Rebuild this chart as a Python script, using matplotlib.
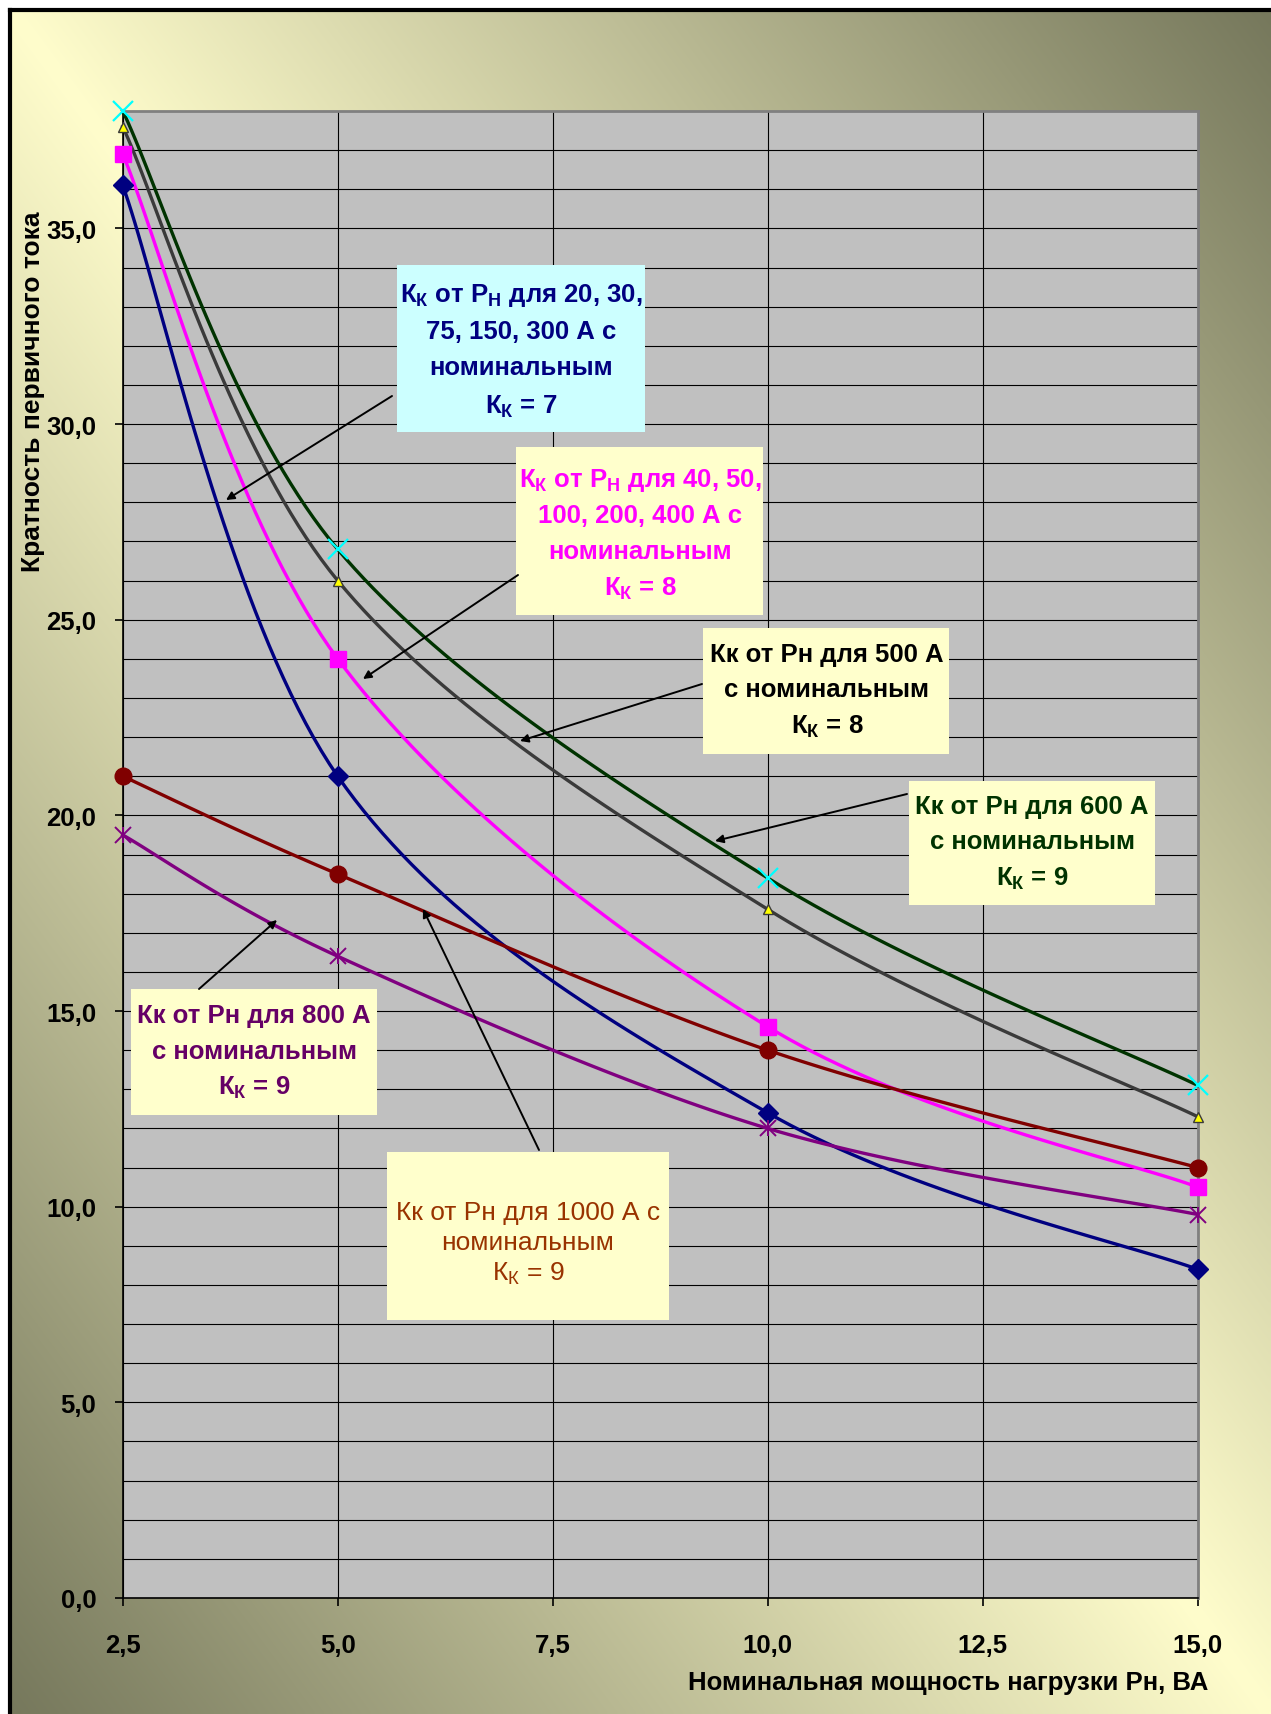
import numpy as np
import matplotlib
matplotlib.use('Agg')
import matplotlib.pyplot as plt
from matplotlib.patches import Rectangle

plt.rcParams['font.family'] = ['Liberation Sans', 'DejaVu Sans']
plt.rcParams['mathtext.fontset'] = 'custom'
plt.rcParams['mathtext.rm'] = 'Liberation Sans'
plt.rcParams['mathtext.bf'] = 'Liberation Sans:bold'

W, H = 1271, 1715

# data
p_nom = [2.5, 5.0, 10.0, 15.0]
k_20_300 = [36.1, 21.0, 12.4, 8.4]
k_40_400 = [36.9, 24.0, 14.6, 10.5]
k_500 = [37.6, 26.0, 17.6, 12.3]
k_600 = [38.0, 26.8, 18.4, 13.1]
k_1000 = [21.0, 18.5, 14.0, 11.0]
k_800 = [19.5, 16.4, 12.0, 9.8]

x_ticks = [2.5, 5.0, 7.5, 10.0, 12.5, 15.0]
y_ticks = [0, 5, 10, 15, 20, 25, 30, 35]


def smooth(xs, ys, n=40):
    # bezier smoothing like the spreadsheet "smoothed line"
    p = np.column_stack([xs, ys]).astype(float)
    ext = np.vstack([p[0], p, p[-1]])
    t = np.linspace(0, 1, n)[:, None]
    out = []
    for i in range(len(p) - 1):
        p0, p3 = ext[i + 1], ext[i + 2]
        c1 = p0 + (ext[i + 2] - ext[i]) / 6
        c2 = p3 - (ext[i + 3] - ext[i + 1]) / 6
        seg = (1 - t)**3 * p0 + 3 * (1 - t)**2 * t * c1 + 3 * (1 - t) * t**2 * c2 + t**3 * p3
        out.append(seg if i == 0 else seg[1:])
    s = np.vstack(out)
    return s[:, 0], s[:, 1]


def fmt(v):
    return ('%.1f' % v).replace('.', ',')


fig = plt.figure(figsize=(W / 100, H / 100), dpi=100)

# background with diagonal gradient and black frame
bg = fig.add_axes([0, 0, 1, 1], zorder=0)
u = np.linspace(0, 1, 300)
v = np.linspace(0, 1, 400)
U, V = np.meshgrid(u, v)
t = np.abs(U - V)
light = np.array([255, 253, 204]) / 255
dark = np.array([118, 120, 92]) / 255
img = light + (dark - light) * t[..., None]
bg.imshow(img, extent=(10, W, H, 11), aspect='auto', interpolation='bilinear')
bg.plot([10, 10], [H, 11], color='black', lw=3, solid_capstyle='projecting')
bg.plot([10, W], [11, 11], color='black', lw=3, solid_capstyle='projecting')
bg.set_xlim(0, W)
bg.set_ylim(H, 0)
bg.axis('off')

# plot area
ax = fig.add_axes([122.7 / W, 1 - 1599 / H, (1197.7 - 122.7) / W, (1599 - 112) / H], zorder=1)
ax.set_facecolor('#C0C0C0')
ax.set_xlim(2.5, 15)
ax.set_ylim(0, 38)
ax.set_xticks(x_ticks)
ax.set_xticklabels([fmt(v) for v in x_ticks])
ax.set_yticks(y_ticks)
ax.set_yticklabels([fmt(v) for v in y_ticks])
ax.set_yticks(np.arange(0, 38, 1), minor=True)
ax.grid(which='both', axis='y', color='black', lw=0.8)
ax.grid(which='major', axis='x', color='black', lw=0.8)
ax.set_axisbelow(True)
ax.tick_params(which='minor', length=0)
ax.tick_params(which='major', direction='out', length=6, width=1.2, labelsize=18.5)
ax.tick_params(axis='x', pad=19)
ax.tick_params(axis='y', pad=13)
for lab in ax.get_xticklabels() + ax.get_yticklabels():
    lab.set_fontweight('bold')
for s in ['left', 'bottom']:
    ax.spines[s].set_color('black')
    ax.spines[s].set_linewidth(1.2)
for s in ['top', 'right']:
    ax.spines[s].set_color('#808080')
    ax.spines[s].set_linewidth(2)

lw = 2.4
xs, ys = smooth(p_nom, k_20_300)
ax.plot(xs, ys, color='#000080', lw=lw, clip_on=False, zorder=3)
ax.plot(p_nom, k_20_300, 'D', color='#000080', ms=10, clip_on=False, zorder=4)

xs, ys = smooth(p_nom, k_40_400)
ax.plot(xs, ys, color='#FF00FF', lw=lw, clip_on=False, zorder=3)
ax.plot(p_nom, k_40_400, 's', color='#FF00FF', ms=12, clip_on=False, zorder=4)

xs, ys = smooth(p_nom, k_500)
ax.plot(xs, ys, color='#3A3A3A', lw=lw, clip_on=False, zorder=3)
ax.plot(p_nom, k_500, '^', mfc='#FFFF00', mec='#3A3A3A', mew=1, ms=7, clip_on=False, zorder=4)

xs, ys = smooth(p_nom, k_600)
ax.plot(xs, ys, color='#003300', lw=lw, clip_on=False, zorder=3)
ax.plot(p_nom, k_600, 'x', color='#00FFFF', ms=15, mew=1.6, clip_on=False, zorder=4)

xs, ys = smooth(p_nom, k_1000)
ax.plot(xs, ys, color='#800000', lw=lw, clip_on=False, zorder=3)
ax.plot(p_nom, k_1000, 'o', color='#800000', ms=12, clip_on=False, zorder=4)

xs, ys = smooth(p_nom, k_800)
ax.plot(xs, ys, color='#800080', lw=lw, clip_on=False, zorder=3)
ax.plot(p_nom, k_800, 'x', color='#800080', ms=12, mew=1.4, clip_on=False, zorder=4)
ax.plot(p_nom, k_800, '|', color='#800080', ms=12, mew=1.4, clip_on=False, zorder=4)

fig.text(33 / W, 1 - 392 / H, 'Кратность первичного тока', rotation=90,
         ha='center', va='center', fontsize=19, fontweight='bold')
fig.text(1208 / W, 1 - 1683 / H, 'Номинальная мощность нагрузки Рн, ВА',
         ha='right', va='center', fontsize=18.5, fontweight='bold')

# callouts, pixel coordinates of the picture
ov = fig.add_axes([0, 0, 1, 1], zorder=5)
ov.set_xlim(0, W)
ov.set_ylim(H, 0)
ov.axis('off')
ov.patch.set_alpha(0)

KK = r'К$_\mathbf{К}$'
KK_rm = r'К$_\mathrm{К}$'
PN = r'Р$_\mathbf{Н}$'

boxes = [
    ((397, 266, 645, 433), '#CCFFFF', '#000080', 'bold', 521,
     [KK + ' от ' + PN + ' для 20, 30,', '75, 150, 300 А с', 'номинальным', KK + ' = 7'],
     [293, 330, 366, 404]),
    ((516, 448, 763, 616), '#FFFFCC', '#FF00FF', 'bold', 640,
     [KK + ' от ' + PN + ' для 40, 50,', '100, 200, 400 А с', 'номинальным', KK + ' = 8'],
     [478, 514, 550, 587]),
    ((703, 629, 949, 755), '#FFFFCC', '#000000', 'bold', 827,
     ['Кк от Рн для 500 А', 'с номинальным', KK + ' = 8'],
     [653, 688, 725]),
    ((909, 782, 1155, 906), '#FFFFCC', '#003300', 'bold', 1032,
     ['Кк от Рн для 600 А', 'с номинальным', KK + ' = 9'],
     [805, 840, 877]),
    ((131, 990, 377, 1116), '#FFFFCC', '#660066', 'bold', 254,
     ['Кк от Рн для 800 А', 'с номинальным', KK + ' = 9'],
     [1014, 1050, 1086]),
    ((387, 1153, 669, 1321), '#FFFFCC', '#993300', 'normal', 528,
     ['Кк от Рн для 1000 А с', 'номинальным', KK_rm + ' = 9'],
     [1211, 1241, 1272]),
]

arrows = [
    ((392, 397), (226, 501)),
    ((518, 576), (363, 680)),
    ((702, 685), (520, 742)),
    ((907, 795), (715, 842)),
    ((199, 990), (277, 921)),
    ((539, 1151), (423, 910)),
]

for (a, b) in arrows:
    ov.annotate('', xy=b, xytext=a,
                arrowprops=dict(arrowstyle='-|>', color='black', lw=1.4,
                                mutation_scale=12, shrinkA=0, shrinkB=0))

for (x0, y0, x1, y1), fc, tc, wt, cx, lines, ly in boxes:
    ov.add_patch(Rectangle((x0, y0), x1 - x0, y1 - y0, facecolor=fc, edgecolor='none'))
    fs = 18.5 if wt == 'bold' else 19
    for line, yy in zip(lines, ly):
        ov.text(cx, yy + 9, line, ha='center', va='baseline', fontsize=fs,
                fontweight=wt, color=tc)

fig.savefig('out.png', dpi=100)
